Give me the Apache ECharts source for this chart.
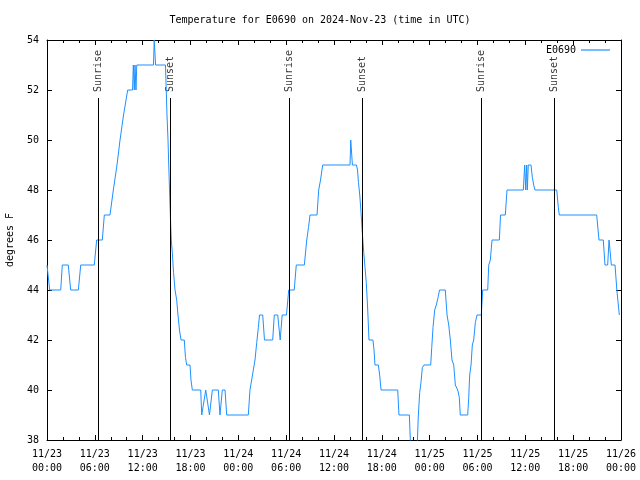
<!DOCTYPE html>
<html>
<head>
<meta charset="utf-8">
<script src="https://cdn.jsdelivr.net/npm/echarts@6/dist/echarts.min.js"></script>
<style>
html,body{margin:0;padding:0;background:#fff;}
#chart{width:640px;height:480px;}
</style>
</head>
<body>
<div id="chart"></div>
<script>
// Hours since 2024-11-23 00:00 UTC
const hours = [0,0.19,0.34,1.72,1.92,2.67,2.97,3.93,4.23,5.93,6.23,6.94,7.19,7.90,8.32,8.78,9.16,9.60,10.12,10.73,10.83,10.95,11.04,11.16,11.26,13.36,13.45,13.55,13.62,14.86,14.96,15.05,15.18,15.27,15.37,15.47,15.59,15.72,15.87,16.06,16.27,16.43,16.62,16.81,17.22,17.37,17.52,17.94,18.06,18.23,19.28,19.41,19.61,19.91,20.16,20.38,20.74,21.49,21.70,21.99,22.33,22.54,25.25,25.46,25.88,26.09,26.31,26.51,26.66,27.06,27.28,28.31,28.51,28.94,29.25,29.50,30.04,30.32,31.01,31.27,32.28,32.58,32.80,32.99,33.87,34.08,34.31,34.58,38.01,38.10,38.22,38.31,38.82,38.95,39.07,39.23,39.39,39.55,39.73,39.89,40.05,40.23,40.39,40.89,41.02,41.14,41.56,41.73,41.90,43.99,44.15,45.45,45.70,46.35,46.58,46.75,46.91,47.08,47.29,48.13,48.26,48.42,48.63,48.83,49.05,49.24,49.96,50.18,50.39,50.59,50.80,51.02,51.22,51.52,51.72,51.84,52.77,52.90,53.02,53.19,53.35,53.52,53.73,53.94,54.48,54.65,55.28,55.41,55.61,55.82,56.74,56.89,57.49,57.70,59.75,59.92,60.05,60.17,60.25,60.37,60.71,60.88,61.05,61.21,63.94,64.14,64.26,68.95,69.24,69.78,69.99,70.33,70.50,70.79,71.25,71.48,71.79];
const temps = [45,45,44,44,45,45,44,44,45,45,46,46,47,47,48,49,50,51,52,52,53,52,53,52,53,53,54,54,53,53,52,51,50,49,48,47,46,45.5,44.7,44,43.6,43,42.4,42,42,41.3,41,41,40.4,40,40,39,39,40,40,39,40,40,39,40,40,39,39,40,40.8,41.2,41.9,42.5,43,43,42,42,43,43,42,43,43,44,44,45,45,46,46.5,47,47,48,48.4,49,49,50,50,49,49,48.8,48.3,47.8,47.1,46.3,45.5,44.9,44.3,43.2,42,42,41.6,41,41,40.6,40,40,39,39,37,37,39,39.9,40.3,40.9,41,41,41.7,42.5,43.2,43.4,43.7,44,44,43,42.6,42,41.2,41,40.2,40,39.7,39,39,39.7,40.6,41,41.8,42,42.7,43,43,44,44,45,45.2,46,46,47,47,48,48,49,48,49,48,49,49,48.5,48.2,48,48,47.3,47,47,46,46,45,45,46,45,45,44,43];
const sunriseHours = [6.43, 30.44, 54.48];
const sunsetHours = [15.47, 39.56, 63.64];
const sunLineTop = 51.68;
const xTickLabels = ['11/23\n00:00','11/23\n06:00','11/23\n12:00','11/23\n18:00','11/24\n00:00','11/24\n06:00','11/24\n12:00','11/24\n18:00','11/25\n00:00','11/25\n06:00','11/25\n12:00','11/25\n18:00','11/26\n00:00'];
const seriesName = 'E0690';
const titleText = 'Temperature for E0690 on 2024-Nov-23 (time in UTC)';

const FONT = 'DejaVu Sans Mono';
const LINE_COLOR = '#1e90ff';
const chart = echarts.init(document.getElementById('chart'), null, {renderer:'canvas'});

const baseX = {
  type:'value', min:0, max:72, interval:6,
  axisLine:{show:true, onZero:false, lineStyle:{color:'#000', width:1}},
  axisTick:{show:true, inside:true, length:5, lineStyle:{color:'#000'}},
  minorTick:{show:true, splitNumber:3, length:3, lineStyle:{color:'#000'}},
  splitLine:{show:false}
};
const baseY = {
  type:'value', min:38, max:54, interval:2,
  axisLine:{show:true, onZero:false, lineStyle:{color:'#000', width:1}},
  axisTick:{show:true, inside:true, length:5, lineStyle:{color:'#000'}},
  splitLine:{show:false}
};

const sunMarks = [];
sunriseHours.forEach(h => sunMarks.push([{coord:[h,38]},{coord:[h,sunLineTop]}]));
sunsetHours.forEach(h => sunMarks.push([{coord:[h,38]},{coord:[h,sunLineTop]}]));

const sunLabels = sunriseHours.map(h => ({value:[h,sunLineTop], name:'Sunrise'}))
  .concat(sunsetHours.map(h => ({value:[h,sunLineTop], name:'Sunset'})));

chart.setOption({
  animation:false,
  backgroundColor:'#fff',
  title:{text:titleText, left:'center', top:10,
    textStyle:{fontFamily:FONT, fontSize:10, fontWeight:'normal', color:'#000'}},
  legend:{
    right:25, top:40, align:'right', itemWidth:29, itemHeight:1.2, icon:'rect',
    data:[{name:seriesName, icon:'rect', itemStyle:{color:LINE_COLOR}}],
    textStyle:{fontFamily:FONT, fontSize:10, color:'#000'}
  },
  grid:{left:47, right:19, top:40, bottom:40, containLabel:false, outerBoundsMode:'none'},
  xAxis:[
    Object.assign({}, baseX, {position:'bottom',
      axisLabel:{show:true, margin:7, fontFamily:FONT, fontSize:10, color:'#000', lineHeight:14,
        formatter: v => xTickLabels[Math.round(v/6)]}}),
    Object.assign({}, baseX, {position:'top', axisLabel:{show:false}})
  ],
  yAxis:[
    Object.assign({}, baseY, {position:'left',
      name:'degrees F', nameLocation:'middle', nameGap:32, nameRotate:90,
      nameTextStyle:{fontFamily:FONT, fontSize:10, color:'#000'},
      axisLabel:{show:true, margin:8, fontFamily:FONT, fontSize:10, color:'#000'}}),
    Object.assign({}, baseY, {position:'right', axisLabel:{show:false}})
  ],
  series:[
    {
      name:seriesName, type:'line', xAxisIndex:0, yAxisIndex:0,
      data: hours.map((h,i)=>[h,temps[i]]),
      symbol:'none', showSymbol:false,
      lineStyle:{color:LINE_COLOR, width:1},
      itemStyle:{color:LINE_COLOR},
      clip:true,
      markLine:{
        silent:true, symbol:['none','none'],
        lineStyle:{color:'#000', width:1, type:'solid'},
        label:{show:false},
        data:sunMarks
      }
    },
    {
      name:'sunlabels', type:'scatter', xAxisIndex:0, yAxisIndex:0,
      symbolSize:0, silent:true,
      data:sunLabels,
      label:{show:true, position:'top', distance:6, rotate:90, align:'left', verticalAlign:'middle',
        formatter: p => p.name, fontFamily:FONT, fontSize:10, color:'#000'}
    }
  ]
});
</script>
</body>
</html>
